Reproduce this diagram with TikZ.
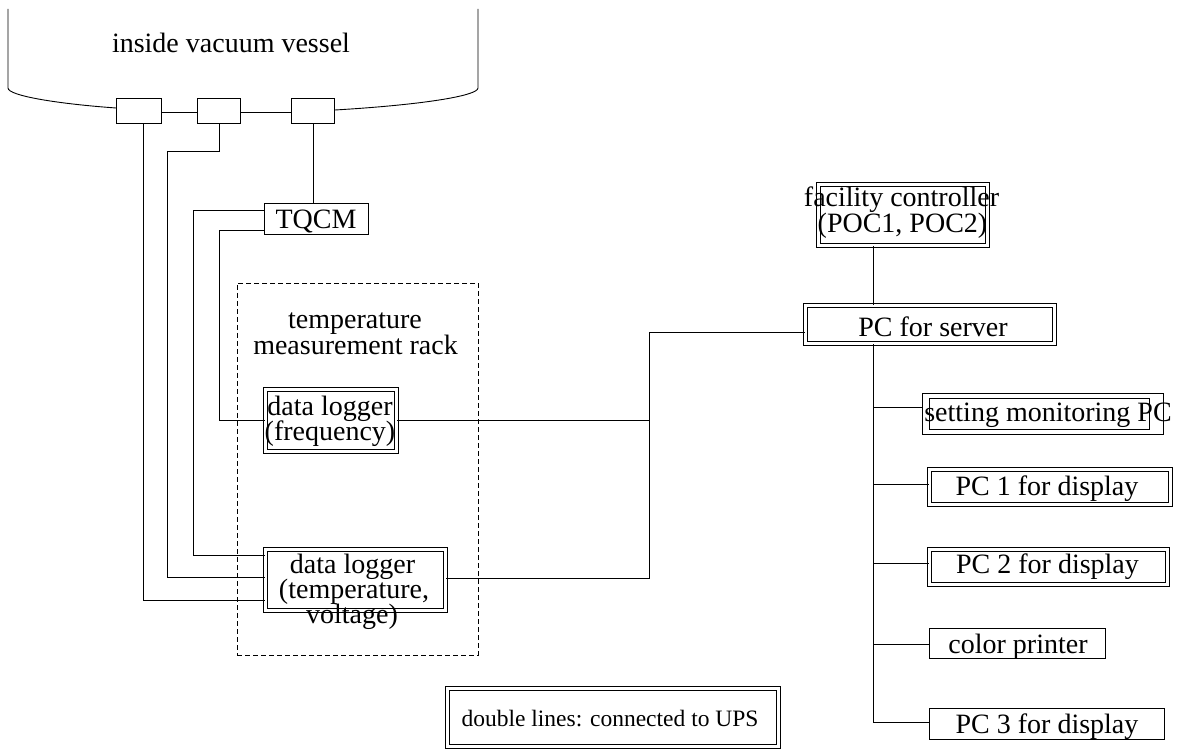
\documentclass[tikz,border=0pt]{standalone}
\usepackage{fontspec}
\setmainfont{Liberation Serif}
\usetikzlibrary{calc}
\begin{document}
\begin{tikzpicture}[x=1pt,y=-1pt,
  every node/.style={font=\fontsize{28}{25}\selectfont, inner sep=0pt},
  sbox/.style={draw, line width=0.9pt, minimum width=#1},
  dbox/.style={draw, line width=1.2pt, double, double distance=2.4pt, minimum width=#1},
  wire/.style={line width=0.9pt},
  txt/.style={anchor=base},
  rack/.style={draw, line width=0.8pt, dash pattern=on 5pt off 3pt}
]
\useasboundingbox (0,0) rectangle (1179,751);

% vessel boxes
\node[sbox=45, minimum height=25] (v1) at (139,111) {};
\node[sbox=43, minimum height=25] (v2) at (219,111) {};
\node[sbox=43, minimum height=25] (v3) at (313,111) {};
\coordinate (vl) at (8,9);
\coordinate (vr) at (478,9);
\draw[wire] (vl) -- (8,88) .. controls (8,96) and (60,104) .. (v1.west |- 0,108);
\draw[wire] (vr) -- (478,88) .. controls (478,96) and (420,105) .. (v3.east |- 0,110);
\draw[wire] (v1.east |- 0,112) -- (v2.west |- 0,112);
\draw[wire] (v2.east |- 0,112) -- (v3.west |- 0,112);
\node[txt] (vesselT) at (231,53) {inside vacuum vessel};

% TQCM
\node[sbox=104, minimum height=31] (tqcm) at (316.5,219) {};
\node[txt] (tqcmT) at (316,229) {TQCM};

% rack
\node[rack, minimum width=241, minimum height=372] (rackbox) at (357.5,469) {};
\node[txt] (rackT1) at (355,329) {temperature};
\node[txt] (rackT2) at (355.5,355) {measurement rack};

% data loggers
\node[dbox=131.2, minimum height=62.2] (lg1) at (331,420.5) {};
\node[txt] (lg1T1) at (330,416) {data logger};
\node[txt] (lg1T2) at (330,441) {(frequency)};
\node[dbox=180.2, minimum height=61.2] (lg2) at (355.5,580) {};
\node[txt] (lg2T1) at (352.5,573) {data logger};
\node[txt] (lg2T2) at (354,598) {(temperature,};
\node[txt] (lg2T3) at (352,623) {voltage)};

% wires from vessel
\draw[wire] ($(v1.south)+(4,0)$) |- (lg2.west |- 0,600);
\draw[wire] (v2.south) -- (219,151) -| (167,577) -- (lg2.west |- 0,577);
\draw[wire] (v3.south) -- (v3.south |- tqcm.north);
\draw[wire] (tqcm.west |- 0,210) -| (193,555) -- (lg2.west |- 0,555);
\draw[wire] (tqcm.west |- 0,230) -| (219,420) -- (lg1.west |- 0,420);

% facility side
\node[dbox=169.2, minimum height=61.2] (fac) at (903,215) {};
\node[txt] (facT1) at (901.5,207) {facility controller};
\node[txt] (facT2) at (902.5,233) {(POC1, POC2)};
\node[dbox=249.2, minimum height=38.2] (srv) at (930,324.5) {};
\node[txt] (srvT) at (933,337) {PC for server};

\coordinate (jt) at (649,332);
\coordinate (jb) at (649,578);
\draw[wire] (lg1.east |- 0,420) -- (jt |- 0,420);
\draw[wire] (lg2.east |- 0,578) -- (jb) -- (jt) -- (srv.west |- jt);
\draw[wire] (fac.south -| 873,0) -- (srv.north -| 873,0);

% clients
\node[sbox=241, minimum height=41] (smon) at (1043,414) {};
\draw[line width=0.9pt] (929,398.5) rectangle (1149,429.5);
\node[txt] (smonT) at (1048,422) {setting monitoring PC};
\node[dbox=241.2, minimum height=35.2] (pc1) at (1050,487) {};
\node[txt] (pc1T) at (1047,495) {PC 1 for display};
\node[dbox=238.2, minimum height=35.2] (pc2) at (1048.5,567) {};
\node[txt] (pc2T) at (1047.5,573) {PC 2 for display};
\node[sbox=176, minimum height=30] (cpr) at (1017.5,643.5) {};
\node[txt] (cprT) at (1018,653) {color printer};
\node[sbox=235, minimum height=31] (pc3) at (1047,724) {};
\node[txt] (pc3T) at (1047,733) {PC 3 for display};

\coordinate (tb) at (873,722);
\draw[wire] (srv.south -| tb) -- (tb) -- (pc3.west |- tb);
\draw[wire] (873,407) -- (smon.west |- 0,407);
\draw[wire] (873,484) -- (pc1.west |- 0,484);
\draw[wire] (873,563) -- (pc2.west |- 0,563);
\draw[wire] (873,644) -- (cpr.west |- 0,644);

% legend
\node[draw, line width=1.4pt, double, double distance=2.4pt, minimum width=330.8, minimum height=57.8] (leg) at (613,717.5) {};
\node[txt, font=\fontsize{23.5}{25}\selectfont] (legT) at (610,726) {double lines: connected to UPS};
\end{tikzpicture}
\end{document}
